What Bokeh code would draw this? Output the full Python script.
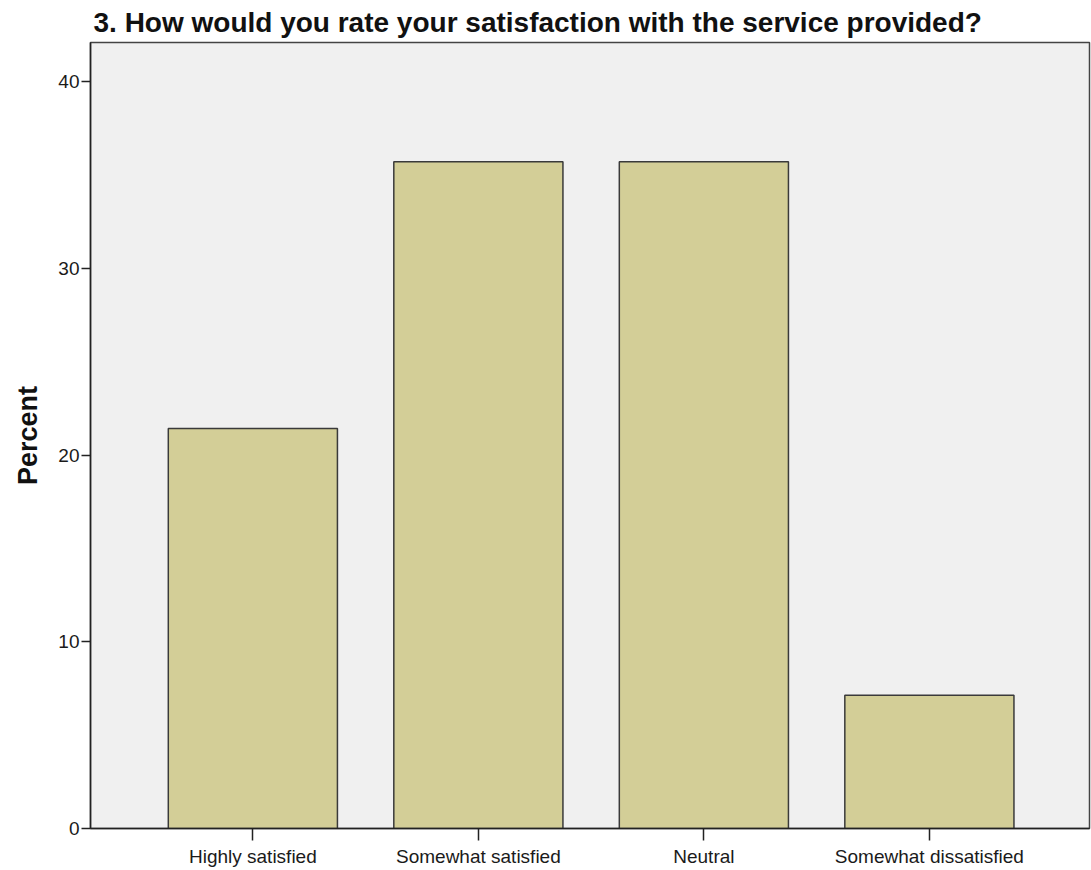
from bokeh.plotting import figure
from bokeh.models import Range1d, FixedTicker
from bokeh.embed import file_html
from bokeh.resources import INLINE

categories = ["Highly satisfied", "Somewhat satisfied", "Neutral", "Somewhat dissatisfied"]
percent = [21.43, 35.71, 35.71, 7.14]
y_ticks = [0, 10, 20, 30, 40]

xs = list(range(len(categories)))

p = figure(width=1091, height=870, output_backend="svg", toolbar_location=None,
           x_range=Range1d(-0.72, len(categories) - 1 + 0.71),
           y_range=Range1d(0, 42.1),
           title="3. How would you rate your satisfaction with the service provided?")
p.min_border_left = 90
p.min_border_right = 2
p.min_border_bottom = 42
p.min_border_top = 10

p.title.text_font = "Liberation Sans"
p.title.text_font_size = "28px"
p.title.text_font_style = "bold"
p.title.text_color = "#111111"
p.title.offset = 3
p.title.standoff = 9

p.background_fill_color = "#F0F0F0"
p.border_fill_color = "white"
p.outline_line_color = "#444444"
p.outline_line_width = 1.5

p.grid.visible = False

p.vbar(x=xs, top=percent, width=0.75, bottom=0,
       fill_color="#D3CE97", line_color="#3a3a3a", line_width=1.5)

xa = p.xaxis[0]
xa.ticker = FixedTicker(ticks=xs)
xa.major_label_overrides = {i: c for i, c in enumerate(categories)}
xa.major_tick_out = 12
xa.major_tick_in = 0
xa.minor_tick_out = 0
xa.minor_tick_in = 0
xa.axis_line_color = "#222222"
xa.axis_line_width = 1.5
xa.major_tick_line_color = "#222222"
xa.major_tick_line_width = 1.5
xa.major_label_text_font = "Liberation Sans"
xa.major_label_text_font_size = "19px"
xa.major_label_text_color = "#1a1a1a"
xa.major_label_standoff = 5

ya = p.yaxis[0]
ya.ticker = FixedTicker(ticks=y_ticks)
ya.major_tick_out = 9
ya.major_tick_in = 0
ya.minor_tick_out = 0
ya.minor_tick_in = 0
ya.axis_line_color = "#222222"
ya.axis_line_width = 1.5
ya.major_tick_line_color = "#222222"
ya.major_tick_line_width = 1.5
ya.major_label_text_font = "Liberation Sans"
ya.major_label_text_font_size = "19px"
ya.major_label_text_color = "#1a1a1a"
ya.major_label_standoff = 2
ya.axis_label = "Percent"
ya.axis_label_text_font = "Liberation Sans"
ya.axis_label_text_font_size = "27px"
ya.axis_label_text_font_style = "bold"
ya.axis_label_text_color = "#111111"
ya.axis_label_standoff = 12

open("out.html", "w").write(file_html(p, INLINE))
